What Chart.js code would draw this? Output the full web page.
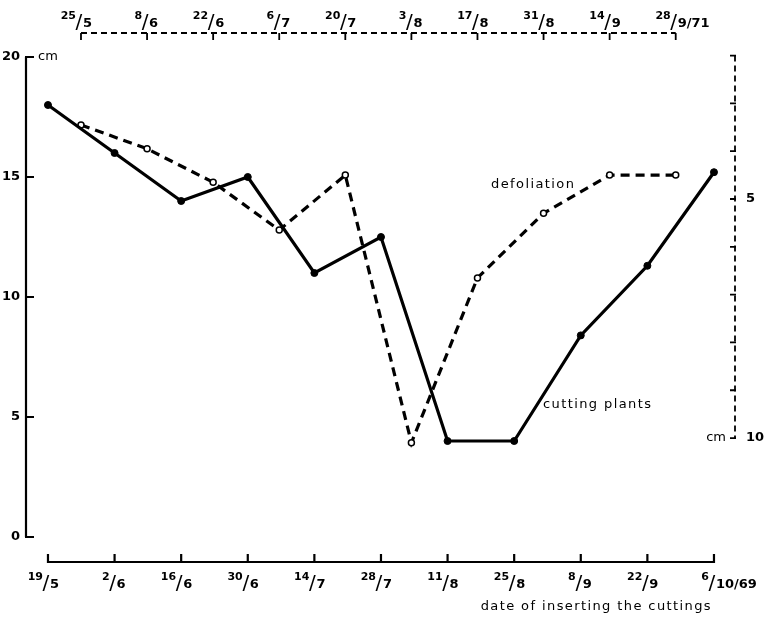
<!DOCTYPE html>
<html lang="en">

<head>
    <meta charset="UTF-8">
    <title>Cutting plants and defoliation</title>

    <!-- Chart.js -->
    <script src="https://cdn.jsdelivr.net/npm/chart.js"></script>

    <style>
        html, body {
            margin: 0;
            padding: 0;
            background: #fff;
        }

        .chart-container {
            position: relative;
            width: 764px;
            height: 617px;
        }
    </style>
</head>

<body>
    <div class="chart-container">
        <canvas id="grafico"></canvas>
    </div>

    <script type="text/javascript">
        // Bottom axis: date of inserting the cuttings (days after 19/5/69)
        var cuttingDays = [0, 14, 28, 42, 56, 70, 84, 98, 112, 126, 140];
        var cuttingLabels = ['19/5', '2/6', '16/6', '30/6', '14/7', '28/7', '11/8', '25/8', '8/9', '22/9', '6/10/69'];
        var cuttingPlants = [18, 16, 14, 15, 11, 12.5, 4, 4, 8.4, 11.3, 15.2];

        // Top axis: defoliation dates (days after 25/5/71)
        var defoliationDays = [0, 14, 28, 42, 56, 70, 84, 98, 112, 126];
        var defoliationLabels = ['25/5', '8/6', '22/6', '6/7', '20/7', '3/8', '17/8', '31/8', '14/9', '28/9/71'];
        var defoliation = [3.45, 3.95, 4.65, 5.65, 4.5, 10.1, 6.65, 5.3, 4.5, 4.5];

        // Axis ticks
        var leftTicks = [0, 5, 10, 15, 20];
        var rightTicks = [2, 3, 4, 5, 6, 7, 8, 9, 10];
        var rightLabels = [5, 10];

        var FONT = '"DejaVu Sans", sans-serif';

        function toPoints(xs, ys) {
            return xs.map(function (x, i) { return { x: x, y: ys[i] }; });
        }

        // draws "19/5" as a small raised number, a slash and a lowered number
        function drawFraction(ctx, label, x, baseY) {
            var parts = label.split('/');
            var num = parts[0];
            var den = parts.slice(1).join('/');
            var sx = x - 2;
            ctx.textBaseline = 'alphabetic';
            ctx.font = 'bold 11px ' + FONT;
            ctx.textAlign = 'right';
            ctx.fillText(num, sx - 3, baseY - 8);
            ctx.font = '20px ' + FONT;
            ctx.textAlign = 'center';
            ctx.fillText('/', sx, baseY + 1);
            ctx.font = 'bold 13px ' + FONT;
            ctx.textAlign = 'left';
            ctx.fillText(den, sx + 4, baseY);
        }

        var axesPlugin = {
            id: 'axesPlugin',
            afterDraw: function (chart) {
                var ctx = chart.ctx;
                var x = chart.scales.x, x2 = chart.scales.x2;
                var y = chart.scales.y, y2 = chart.scales.y2;
                var area = chart.chartArea;
                ctx.save();
                ctx.strokeStyle = '#000';
                ctx.fillStyle = '#000';
                ctx.lineCap = 'butt';

                // left axis (cm)
                var lx = area.left;
                ctx.lineWidth = 2.2;
                ctx.beginPath();
                ctx.moveTo(lx, y.getPixelForValue(20));
                ctx.lineTo(lx, y.getPixelForValue(0));
                leftTicks.forEach(function (t) {
                    var py = y.getPixelForValue(t);
                    ctx.moveTo(lx - 1, py);
                    ctx.lineTo(lx + 8, py);
                });
                ctx.stroke();
                ctx.font = 'bold 13px ' + FONT;
                ctx.textAlign = 'right';
                ctx.textBaseline = 'middle';
                leftTicks.forEach(function (t) {
                    ctx.fillText(String(t), lx - 6, y.getPixelForValue(t));
                });
                ctx.textAlign = 'left';
                ctx.font = '13px ' + FONT;
                ctx.fillText('cm', lx + 12, y.getPixelForValue(20));

                // bottom axis
                var by = 562;
                ctx.lineWidth = 2.2;
                ctx.beginPath();
                ctx.moveTo(x.getPixelForValue(cuttingDays[0]), by);
                ctx.lineTo(x.getPixelForValue(cuttingDays[cuttingDays.length - 1]), by);
                cuttingDays.forEach(function (d) {
                    var px = x.getPixelForValue(d);
                    ctx.moveTo(px, by + 1);
                    ctx.lineTo(px, by - 8);
                });
                ctx.stroke();
                cuttingDays.forEach(function (d, i) {
                    drawFraction(ctx, cuttingLabels[i], x.getPixelForValue(d), 588);
                });
                ctx.font = '13px ' + FONT;
                ctx.letterSpacing = '1.4px';
                ctx.textAlign = 'right';
                ctx.textBaseline = 'alphabetic';
                ctx.fillText('date of inserting the cuttings', 712, 610);

                // top axis (dashed)
                var ty = 33;
                ctx.letterSpacing = '0px';
                ctx.lineWidth = 1.8;
                ctx.setLineDash([6, 4]);
                ctx.beginPath();
                ctx.moveTo(x2.getPixelForValue(defoliationDays[0]), ty);
                ctx.lineTo(x2.getPixelForValue(defoliationDays[defoliationDays.length - 1]), ty);
                ctx.stroke();
                ctx.setLineDash([]);
                ctx.beginPath();
                defoliationDays.forEach(function (d) {
                    var px = x2.getPixelForValue(d);
                    ctx.moveTo(px, ty);
                    ctx.lineTo(px, ty + 7);
                });
                ctx.stroke();
                defoliationDays.forEach(function (d, i) {
                    drawFraction(ctx, defoliationLabels[i], x2.getPixelForValue(d), 27);
                });

                // right axis (dashed, reversed)
                var rx = area.right;
                ctx.setLineDash([6, 4]);
                ctx.beginPath();
                ctx.moveTo(rx, y2.getPixelForValue(2));
                ctx.lineTo(rx, y2.getPixelForValue(10));
                ctx.stroke();
                ctx.setLineDash([]);
                ctx.beginPath();
                rightTicks.forEach(function (t) {
                    var py = y2.getPixelForValue(t);
                    ctx.moveTo(rx + 1, py);
                    ctx.lineTo(rx - 5, py);
                });
                ctx.stroke();
                ctx.font = 'bold 13px ' + FONT;
                ctx.textAlign = 'left';
                ctx.textBaseline = 'middle';
                rightLabels.forEach(function (t) {
                    ctx.fillText(String(t), rx + 11, y2.getPixelForValue(t));
                });
                ctx.textAlign = 'right';
                ctx.font = '13px ' + FONT;
                ctx.fillText('cm', rx - 9, y2.getPixelForValue(10));

                // series names
                ctx.letterSpacing = '1.4px';
                ctx.textAlign = 'left';
                ctx.textBaseline = 'alphabetic';
                ctx.fillText('defoliation', 491, 188);
                ctx.fillText('cutting plants', 543, 408);
                ctx.restore();
            }
        };

        var ctx = document.getElementById('grafico').getContext('2d');
        var grafico = new Chart(ctx, {
            type: 'line',
            data: {
                datasets: [{
                    label: 'cutting plants',
                    data: toPoints(cuttingDays, cuttingPlants),
                    xAxisID: 'x',
                    yAxisID: 'y',
                    borderColor: '#000',
                    borderWidth: 3.2,
                    pointRadius: 3.5,
                    pointBackgroundColor: '#000',
                    pointBorderColor: '#000',
                    pointBorderWidth: 1,
                    tension: 0,
                    clip: false
                }, {
                    label: 'defoliation',
                    data: toPoints(defoliationDays, defoliation),
                    xAxisID: 'x2',
                    yAxisID: 'y2',
                    borderColor: '#000',
                    borderWidth: 3.2,
                    borderDash: [9, 6],
                    pointRadius: 3,
                    pointBackgroundColor: '#fff',
                    pointBorderColor: '#000',
                    pointBorderWidth: 1.5,
                    tension: 0,
                    clip: false
                }]
            },
            options: {
                responsive: true,
                maintainAspectRatio: false,
                animation: false,
                layout: {
                    padding: { left: 26, right: 29, top: 57, bottom: 80 }
                },
                plugins: {
                    legend: { display: false },
                    tooltip: { enabled: false }
                },
                scales: {
                    x: { type: 'linear', display: false, min: -4.62, max: 144.42 },
                    x2: { type: 'linear', display: false, min: -11.65, max: 138.56 },
                    y: { type: 'linear', display: false, min: 0, max: 20 },
                    y2: { type: 'linear', display: false, min: 2.03, max: 12.07, reverse: true }
                }
            },
            plugins: [axesPlugin]
        });
    </script>

</body>

</html>
